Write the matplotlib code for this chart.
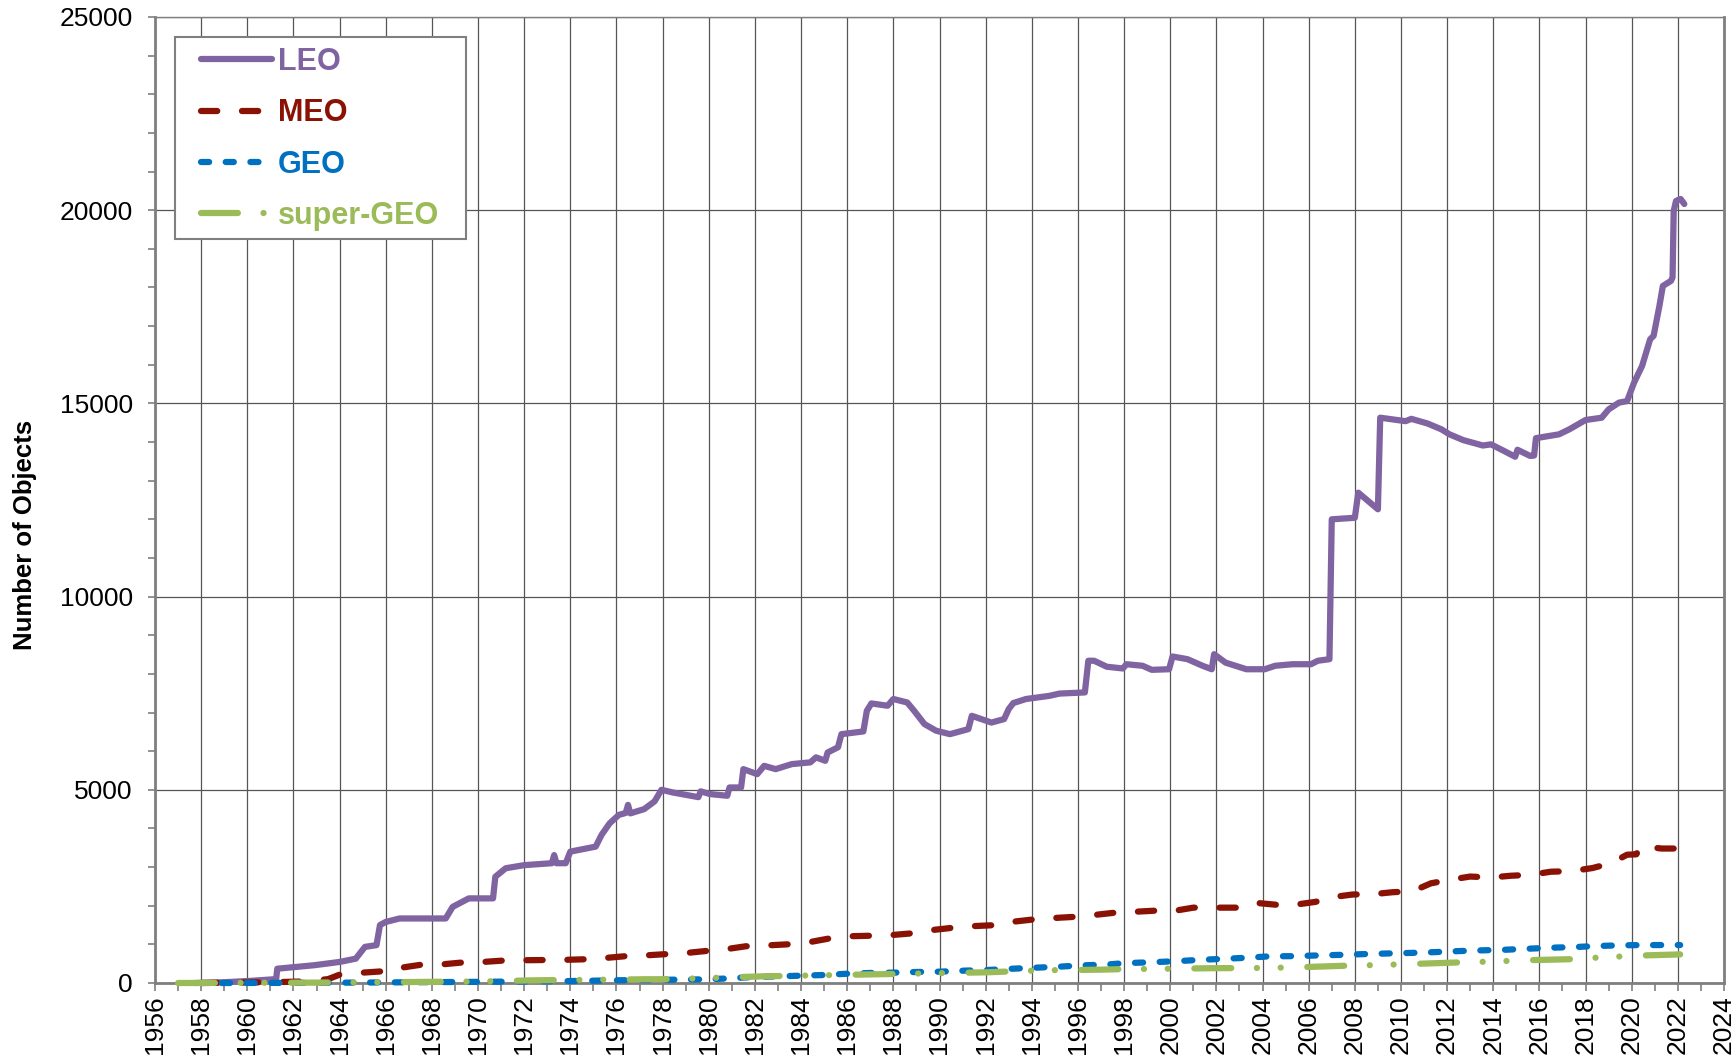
import matplotlib
matplotlib.use("Agg")
import matplotlib.pyplot as plt
from matplotlib.patches import Rectangle
from matplotlib.ticker import MultipleLocator

plt.rcParams["font.family"] = ["Liberation Sans", "DejaVu Sans"]

# LEO
leo_year = [
    1957.75, 1959.0, 1960.0, 1961.0, 1961.25, 1961.3, 1962.0, 1962.9, 1964.0, 1964.7,
    1965.1, 1965.6, 1965.75, 1966.0, 1966.6, 1968.6, 1968.9, 1969.6, 1970.65, 1970.75,
    1971.2, 1972.0, 1973.2, 1973.3, 1973.4, 1973.8, 1974.0, 1975.1, 1975.35, 1975.7,
    1976.1, 1976.4, 1976.5, 1976.6, 1977.2, 1977.65, 1977.95, 1978.45, 1979.55, 1979.65,
    1980.05, 1980.8, 1980.9, 1981.4, 1981.5, 1982.1, 1982.4, 1982.9, 1983.6, 1984.4,
    1984.65, 1985.05, 1985.15, 1985.6, 1985.75, 1986.7, 1986.85, 1987.05, 1987.75, 1988.0,
    1988.6, 1988.9, 1989.35, 1989.85, 1990.45, 1991.0, 1991.25, 1991.4, 1992.25, 1992.8,
    1993.0, 1993.2, 1993.75, 1994.75, 1995.2, 1996.3, 1996.45, 1996.7, 1997.25, 1997.95,
    1998.1, 1998.8, 1999.2, 1999.95, 2000.1, 2000.75, 2001.4, 2001.8, 2001.9, 2002.4,
    2003.3, 2004.1, 2004.55, 2005.3, 2006.1, 2006.4, 2006.9, 2007.0, 2008.0, 2008.15,
    2009.0, 2009.1, 2010.2, 2010.45, 2011.15, 2011.75, 2012.1, 2012.7, 2013.55, 2013.9,
    2014.4, 2014.95, 2015.05, 2015.6, 2015.77, 2015.85, 2016.85, 2017.3, 2018.0, 2018.7,
    2019.0, 2019.45, 2019.8, 2020.1, 2020.45, 2020.8, 2020.95, 2021.2, 2021.35, 2021.7,
    2021.77, 2021.82, 2021.92, 2022.12, 2022.28,
]
leo_count = [
    0, 20, 50, 90, 100, 370, 410, 460, 545, 630,
    935, 980, 1500, 1580, 1670, 1670, 1970, 2190, 2190, 2750,
    2970, 3050, 3100, 3310, 3100, 3100, 3400, 3530, 3830, 4130,
    4350, 4400, 4610, 4390, 4500, 4700, 5000, 4930, 4810, 4960,
    4890, 4845, 5060, 5060, 5535, 5405, 5620, 5535, 5665, 5710,
    5840, 5750, 5965, 6100, 6440, 6510, 7045, 7235, 7175, 7350,
    7260, 7045, 6700, 6530, 6440, 6530, 6570, 6915, 6740, 6830,
    7090, 7245, 7350, 7430, 7490, 7520, 8340, 8340, 8185, 8140,
    8250, 8210, 8105, 8120, 8450, 8380, 8210, 8120, 8510, 8290,
    8120, 8120, 8210, 8250, 8250, 8340, 8380, 12000, 12040, 12690,
    12260, 14630, 14540, 14600, 14480, 14330, 14200, 14050, 13910, 13940,
    13790, 13620, 13800, 13640, 13650, 14100, 14200, 14330, 14570, 14630,
    14845, 15020, 15060, 15535, 15970, 16660, 16750, 17520, 18040, 18170,
    18260, 19980, 20240, 20290, 20160,
]

# MEO
meo_year = [
    1958.0, 1961.0, 1962.5, 1963.5, 1964.0, 1964.8, 1965.8, 1966.0, 1966.6, 1967.5,
    1968.4, 1969.3, 1970.1, 1971.2, 1972.1, 1973.8, 1975.0, 1976.5, 1977.4, 1978.5,
    1979.0, 1979.9, 1980.8, 1981.6, 1982.6, 1983.4, 1984.3, 1985.2, 1986.1, 1987.8,
    1988.7, 1989.6, 1990.5, 1991.4, 1992.3, 1993.1, 1994.0, 1994.9, 1995.8, 1996.7,
    1997.6, 1998.5, 1999.3, 2000.2, 2001.0, 2002.0, 2002.9, 2003.6, 2004.6, 2005.4,
    2006.3, 2007.0, 2007.9, 2008.8, 2009.65, 2010.5, 2011.3, 2012.1, 2013.0, 2013.9,
    2014.75, 2015.6, 2016.5, 2017.4, 2018.3, 2019.1, 2019.8, 2020.2, 2020.4, 2021.3,
    2022.2,
]
meo_count = [
    0, 20, 40, 100, 215, 260, 300, 370, 390, 470,
    480, 530, 540, 585, 590, 600, 620, 700, 720, 760,
    775, 830, 880, 950, 975, 1000, 1050, 1150, 1210, 1235,
    1280, 1365, 1425, 1470, 1495, 1580, 1640, 1680, 1710, 1760,
    1820, 1845, 1870, 1870, 1950, 1950, 1950, 2080, 2025, 2025,
    2100, 2220, 2290, 2300, 2350, 2375, 2580, 2670, 2755, 2730,
    2775, 2800, 2880, 2895, 2975, 3100, 3320, 3330, 3540, 3480,
    3480,
]

# GEO
geo_year = [
    1958.9, 1963.0, 1966.0, 1970.0, 1974.0, 1976.0, 1978.5, 1979.9, 1980.9, 1981.9,
    1983.0, 1984.0, 1985.0, 1986.0, 1987.0, 1988.0, 1989.0, 1990.0, 1991.1, 1992.1,
    1993.2, 1994.2, 1995.2, 1996.2, 1997.2, 1998.0, 1999.3, 2000.3, 2001.3, 2002.3,
    2003.2, 2004.3, 2005.3, 2006.4, 2007.5, 2008.5, 2009.5, 2010.5, 2011.5, 2012.5,
    2013.5, 2014.5, 2015.5, 2016.5, 2017.5, 2018.5, 2019.5, 2020.5, 2022.1,
]
geo_count = [
    0, 5, 15, 30, 50, 70, 86, 95, 120, 155,
    172, 190, 207, 240, 260, 268, 285, 293, 320, 337,
    371, 397, 423, 457, 475, 513, 540, 565, 600, 625,
    650, 690, 695, 713, 730, 750, 765, 780, 800, 826,
    845, 860, 887, 913, 930, 957, 975, 982, 982,
]

# super-GEO
sgeo_year = [
    1957.0, 1963.0, 1966.0, 1970.0, 1972.5, 1977.0, 1978.4, 1982.3, 1987.2, 1992.0,
    1994.5, 1997.0, 1997.8, 1999.3, 2001.8, 2004.2, 2005.7, 2007.5, 2009.0, 2010.6,
    2012.4, 2013.9, 2015.45, 2017.3, 2018.3, 2019.3, 2020.3, 2022.1,
]
sgeo_count = [
    0, 10, 20, 40, 70, 95, 100, 172, 225, 276,
    330, 345, 357, 365, 383, 390, 410, 445, 465, 495,
    530, 555, 590, 615, 650, 680, 710, 740,
]

year_ticks = list(range(1956, 2025, 2))

W, H = 1736, 1061
fig = plt.figure(figsize=(W / 100, H / 100), dpi=100)
ax = fig.add_axes([155 / W, 78 / H, 1569 / W, 966 / H])

lw = 4.5
ax.plot(leo_year, leo_count, color="#8064A2", lw=lw, label="LEO",
        solid_capstyle="round", solid_joinstyle="round", clip_on=False, zorder=3)
ax.plot(meo_year, meo_count, color="#8A1204", lw=lw, label="MEO",
        linestyle=(0, (2.6, 3.95)), dash_capstyle="round", clip_on=False, zorder=3)
ax.plot(geo_year, geo_count, color="#0070C0", lw=lw, label="GEO",
        linestyle=(0, (1.3, 2.65)), dash_capstyle="round", clip_on=False, zorder=3)
ax.plot(sgeo_year, sgeo_count, color="#9BBB59", lw=lw, label="super-GEO",
        linestyle=(0, (5.9, 4.1, 0.01, 3.8, 0.01, 4.25)), dash_capstyle="round",
        clip_on=False, zorder=3)

ax.set_xlim(1956, 2024)
ax.set_ylim(0, 25000)
ax.set_xticks(year_ticks)
ax.xaxis.set_minor_locator(MultipleLocator(1))
ax.yaxis.set_major_locator(MultipleLocator(5000))
ax.yaxis.set_minor_locator(MultipleLocator(1000))

ax.grid(True, which="major", color="#555555", lw=0.9)
ax.set_axisbelow(True)

for side in ["left", "bottom", "right"]:
    ax.spines[side].set_color("#7f7f7f")
    ax.spines[side].set_linewidth(2)
ax.spines["top"].set_color("#7f7f7f")
ax.spines["top"].set_linewidth(1)

ax.tick_params(axis="both", which="both", direction="out", color="#7f7f7f", width=1.2)
ax.tick_params(axis="y", which="both", length=5, pad=11, labelsize=19)
ax.tick_params(axis="x", which="both", length=6, pad=3, labelsize=19, labelrotation=90)

ax.set_ylabel("Number of Objects", fontsize=18.5, fontweight="bold")
ax.yaxis.set_label_coords(-0.075, 0.464)

# legend box drawn separately so the padding can match the original
ax.add_patch(Rectangle((175 / W, 1 - 239 / H), 291 / W, 202 / H,
                       transform=fig.transFigure, facecolor="white",
                       edgecolor="#7f7f7f", lw=1.5, zorder=5, clip_on=False))
leg = ax.legend(loc="upper left", bbox_to_anchor=(201 / W, 1 - 47 / H),
                bbox_transform=fig.transFigure, borderaxespad=0, borderpad=0,
                frameon=False, prop={"size": 22, "weight": "bold"},
                labelcolor="linecolor", handlelength=2.32, handletextpad=0.2,
                labelspacing=0.7)
leg.set_zorder(6)

fig.savefig("out.png", dpi=100)
